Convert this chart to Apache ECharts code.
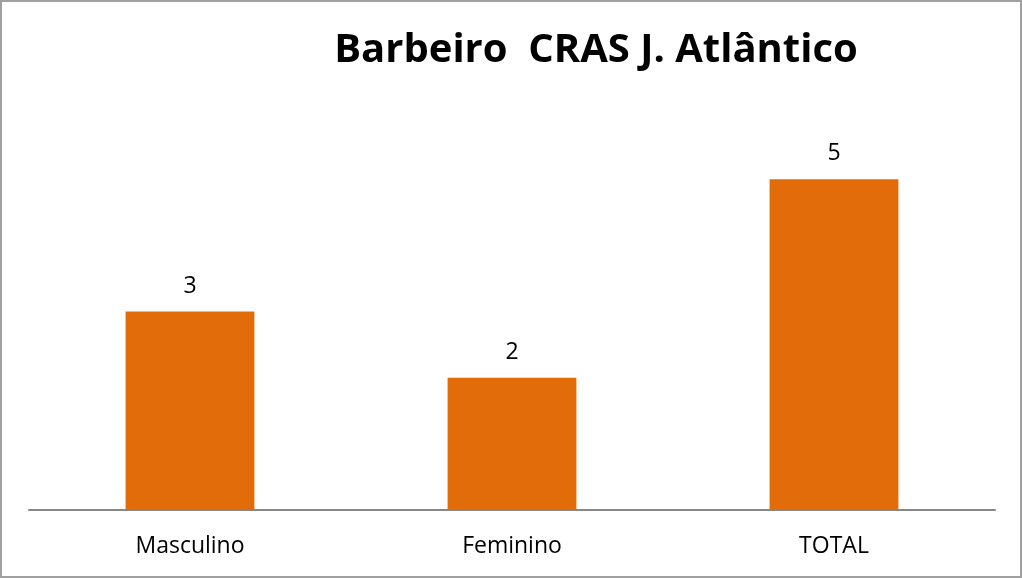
<!DOCTYPE html>
<html><head><meta charset="utf-8">
<script src="https://cdn.jsdelivr.net/npm/echarts@6/dist/echarts.min.js"></script>
<style>html,body{margin:0;padding:0;background:#fff}#c{width:1022px;height:578px;box-sizing:border-box;border:2px solid #a0a0a0}</style>
</head><body><div id="c"></div>
<script>
const categories = ['Masculino', 'Feminino', 'TOTAL'];
const values = [3, 2, 5];
const titleText = 'Barbeiro  CRAS J. Atlântico';
const chart = echarts.init(document.getElementById('c'));
chart.setOption({
  animation: false,
  title: { text: titleText, left: 589, top: 24, textAlign: 'center',
    textStyle: { fontFamily: 'Open Sans', fontWeight: 'bold', fontSize: 40, color: '#000' } },
  grid: { left: 27, right: 25, top: 111, bottom: 66 },
  xAxis: { type: 'category', data: categories,
    axisLine: { lineStyle: { color: '#888', width: 2 } }, axisTick: { show: false },
    axisLabel: { margin: 25, fontFamily: 'Open Sans', fontSize: 23, color: '#000' } },
  yAxis: { type: 'value', min: 0, max: 6, show: false, splitLine: { show: false } },
  series: [{ type: 'bar', data: values, barWidth: '40%',
    itemStyle: { color: '#E36C0A' },
    label: { show: true, position: 'top', distance: 14, fontFamily: 'Open Sans', fontSize: 23, color: '#000' } }]
});
</script></body></html>
